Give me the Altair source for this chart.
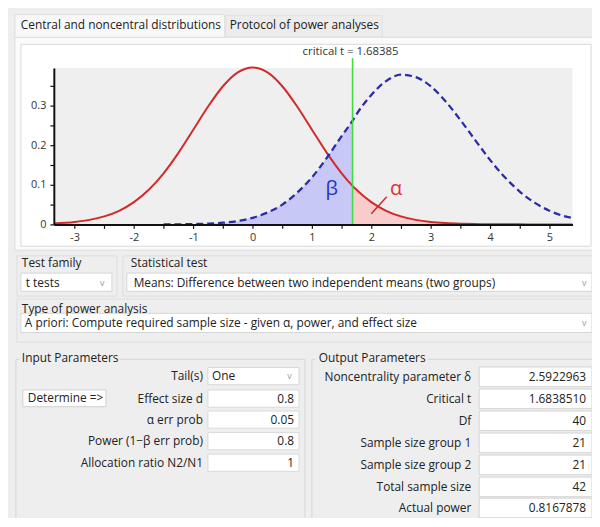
import altair as alt
import pandas as pd

# ---------------- chart data ----------------
T_VALUES = [-3.35, -3.0, -2.75, -2.5, -2.25, -2.0, -1.75, -1.5, -1.25, -1.0, -0.75, -0.5, -0.25,
            0.0, 0.25, 0.5, 0.75, 1.0, 1.25, 1.5, 1.684, 1.75, 2.0, 2.25, 2.5, 2.75, 3.0, 3.25,
            3.5, 3.75, 4.0, 4.25, 4.5, 4.75, 5.0, 5.25, 5.39]
CENTRAL_DENSITY = [0.0025, 0.0062, 0.0114, 0.0202, 0.0344, 0.0562, 0.0874, 0.1291, 0.1807, 0.2390,
                   0.2977, 0.3489, 0.3839, 0.3964, 0.3839, 0.3489, 0.2977, 0.2390, 0.1807, 0.1291,
                   0.0973, 0.0874, 0.0562, 0.0344, 0.0202, 0.0114, 0.0062, 0.0033, 0.0017, 0.0008,
                   0.0004, 0.0002, 0.0001, 0.00005, 0.00002, 0.00001, 0.00001]
NONCENTRAL_DENSITY = [None, None, None, None, None, None, None, 0.0001, 0.0002, 0.0009, 0.0020,
                      0.0043, 0.0087, 0.0166, 0.0300, 0.0500, 0.0800, 0.1190, 0.1680, 0.2230,
                      0.2620, 0.2780, 0.3270, 0.3620, 0.3780, 0.3720, 0.3490, 0.3110, 0.2640,
                      0.2130, 0.1630, 0.1190, 0.0830, 0.0550, 0.0345, 0.0207, 0.0160]
CRITICAL_T = 1.68385
CRITICAL_LABEL = "critical t =  1.68385"
X_TICKS = [-3, -2.5, -2, -1.5, -1, -0.5, 0, 0.5, 1, 1.5, 2, 2.5, 3, 3.5, 4, 4.5, 5]
Y_TICKS = [0, 0.05, 0.1, 0.15, 0.2, 0.25, 0.3, 0.35]
X_DOMAIN = [-3.35, 5.39]
Y_DOMAIN = [0, 0.395]

TAB_LABELS = ["Central and noncentral distributions", "Protocol of power analyses"]
TEST_FAMILY = "t tests"
STAT_TEST = "Means: Difference between two independent means (two groups)"
ANALYSIS_TYPE = "A priori: Compute required sample size - given \u03b1, power, and effect size"
INPUT_LABELS = ["Tail(s)", "Effect size d", "\u03b1 err prob", "Power (1\u2212\u03b2 err prob)",
                "Allocation ratio N2/N1"]
INPUT_VALUES = ["One", "0.8", "0.05", "0.8", "1"]
OUTPUT_LABELS = ["Noncentrality parameter \u03b4", "Critical t", "Df", "Sample size group 1",
                 "Sample size group 2", "Total sample size", "Actual power"]
OUTPUT_VALUES = ["2.5922963", "1.6838510", "40", "21", "21", "42", "0.8167878"]

# ---------------- layout ----------------
W, H = 590, 510
FONT = "Open Sans"
BG = "#eeeeee"
TXT = "#222222"
FS = 12


def cx(X):
    return X - 8


def cy(Y):
    return Y - 8 if Y <= 250 else 242 + (Y - 250) * 0.9675


xs = alt.Scale(domain=X_DOMAIN, range=[cx(54.3), cx(578.3)], nice=False, zero=False)
ys = alt.Scale(domain=Y_DOMAIN, range=[cy(224), cy(66)], nice=False, zero=False)

# ---- UI rectangles ----
rect_rows = []


def box(x0, y0, x1, y1, fill, stroke):
    rect_rows.append(dict(x0=cx(x0), x1=cx(x1), y0=cy(y0), y1=cy(y1), fill=fill, stroke=stroke))


box(15, 12, 227, 36, "#f8f8f8", "#dddddd")
box(228, 13, 386, 35, "#ececec", "#e2e2e2")
box(15, 35, 602, 250, "#fbfbfb", "#dcdcdc")
box(21, 42, 597, 246, "#ffffff", "#d9d9d9")
box(17, 256, 118, 298, "transparent", "#dedede")
box(124, 256, 602, 298, "transparent", "#dedede")
box(17, 301, 602, 346, "transparent", "#dedede")
box(21, 274, 113, 293, "#ffffff", "#d6d6d6")
box(128, 274, 598, 293, "#ffffff", "#d6d6d6")
box(21, 316, 598, 336, "#ffffff", "#d6d6d6")
box(16, 364, 308, 535, "transparent", "#d6d6d6")
box(315, 364, 604, 535, "transparent", "#d6d6d6")
box(20, 356, 120, 371, BG, BG)
box(319, 356, 432, 371, BG, BG)
IN_ROWS = [381.5, 405, 427, 449.5, 472]
OUT_ROWS = [382, 405, 428, 451, 474, 497, 519]
box(210, IN_ROWS[0] - 9, 302, IN_ROWS[0] + 9, "#ffffff", "#d6d6d6")
box(23, 396, 107, 413.5, "#ffffff", "#cfcfcf")
for r in IN_ROWS[1:]:
    box(210, r - 9, 302, r + 9, "#ffffff", "#dadada")
for r in OUT_ROWS:
    box(484, r - 10, 598, r + 10.5, "#ffffff", "#d2d2d2")
rects = pd.DataFrame(rect_rows)

ui_rects = alt.Chart(rects).mark_rect(strokeWidth=1).encode(
    x=alt.X("x0:Q", scale=None, axis=None), x2="x1:Q",
    y=alt.Y("y0:Q", scale=None, axis=None), y2="y1:Q",
    fill=alt.Fill("fill:N", scale=None), stroke=alt.Stroke("stroke:N", scale=None))

# ---- UI texts ----
left_rows, right_rows = [], []


def txt(rows, s, X, Y, color=TXT, fs=FS):
    rows.append(dict(x=cx(X), y=cy(Y), text=s, color=color, fs=fs))


txt(left_rows, TAB_LABELS[0], 21, 23)
txt(left_rows, TAB_LABELS[1], 232, 23)
txt(left_rows, "Test family", 22, 264)
txt(left_rows, TEST_FAMILY, 26, 284)
txt(left_rows, "Statistical test", 132, 264)
txt(left_rows, STAT_TEST, 135, 284)
txt(left_rows, "Type of power analysis", 22, 311)
txt(left_rows, ANALYSIS_TYPE, 25, 326)
txt(left_rows, "Input Parameters", 22, 363)
txt(left_rows, "Output Parameters", 322, 363)
txt(left_rows, INPUT_VALUES[0], 214, IN_ROWS[0])
txt(left_rows, "Determine =>", 28, 404.5)
for X, Y in [(101, 284), (588, 284), (588, 326), (290, IN_ROWS[0])]:
    txt(left_rows, "v", X, Y, "#9a9a9a", 9)
for lab, r in zip(INPUT_LABELS, IN_ROWS):
    txt(right_rows, lab, 205, r)
for val, r in zip(INPUT_VALUES[1:], IN_ROWS[1:]):
    txt(right_rows, val, 297, r)
for lab, r in zip(OUTPUT_LABELS, OUT_ROWS):
    txt(right_rows, lab, 476, r)
for val, r in zip(OUTPUT_VALUES, OUT_ROWS):
    txt(right_rows, val, 592, r)


def text_layer(rows, align):
    return alt.Chart(pd.DataFrame(rows)).mark_text(align=align, baseline="middle", font=FONT).encode(
        x=alt.X("x:Q", scale=None, axis=None), y=alt.Y("y:Q", scale=None, axis=None),
        text="text:N", color=alt.Color("color:N", scale=None), size=alt.Size("fs:Q", scale=None))


ui_left = text_layer(left_rows, "left")
ui_right = text_layer(right_rows, "right")

# ---------------- distribution plot ----------------
curve = pd.DataFrame({"t": T_VALUES, "central": CENTRAL_DENSITY, "noncentral": NONCENTRAL_DENSITY})

plot_bg = alt.Chart(pd.DataFrame({"a": [X_DOMAIN[0]], "b": [X_DOMAIN[1]],
                                  "c": [Y_DOMAIN[0]], "d": [Y_DOMAIN[1]]})).mark_rect(
    fill="#efefef").encode(x=alt.X("a:Q", scale=xs, axis=None), x2="b:Q",
                           y=alt.Y("c:Q", scale=ys, axis=None), y2="d:Q")

beta_area = alt.Chart(curve).transform_filter(
    f"isValid(datum.noncentral) && datum.t <= {CRITICAL_T} + 0.001").mark_area(
    color="#c8c8f6", interpolate="monotone").encode(
    x=alt.X("t:Q", scale=xs, axis=None), y=alt.Y("noncentral:Q", scale=ys, axis=None),
    y2=alt.datum(0))

alpha_area = alt.Chart(curve).transform_filter(
    f"datum.t >= {CRITICAL_T} - 0.001").mark_area(color="#f9cccc", interpolate="monotone").encode(
    x=alt.X("t:Q", scale=xs, axis=None), y=alt.Y("central:Q", scale=ys, axis=None),
    y2=alt.datum(0))

axis_common = dict(grid=False, title=None, domainColor="#111111", domainWidth=2,
                   tickColor="#111111", tickWidth=1.2, tickSize=4, labelFont=FONT,
                   labelFontSize=11, labelColor="#333333", labelOverlap=False, labelBound=False,
                   labelFlush=False, zindex=1)
x_axis = alt.Axis(orient="bottom", offset=cy(224) - H, values=X_TICKS, labelPadding=3,
                  labelExpr="datum.value % 1 == 0 ? '' + datum.value : ''", **axis_common)
y_axis = alt.Axis(orient="left", offset=-cx(54.3), values=Y_TICKS, labelPadding=4,
                  labelExpr="datum.value == 0 ? '0' : (datum.value == 0.1 || datum.value == 0.2 || "
                            "datum.value == 0.3) ? format(datum.value, '.1f') : ''",
                  **axis_common)

central_line = alt.Chart(curve).mark_line(color="#d22a2a", strokeWidth=2,
                                          interpolate="monotone").encode(
    x=alt.X("t:Q", scale=xs, axis=x_axis), y=alt.Y("central:Q", scale=ys, axis=y_axis))

noncentral_line = alt.Chart(curve).transform_filter("isValid(datum.noncentral)").mark_line(
    color="#2b2ba8", strokeWidth=2.3, strokeDash=[7, 4], interpolate="monotone").encode(
    x=alt.X("t:Q", scale=xs, axis=None), y=alt.Y("noncentral:Q", scale=ys, axis=None))

crit_rule = alt.Chart(pd.DataFrame({"t": [CRITICAL_T], "lo": [0.0], "hi": [0.42]})).mark_rule(
    color="#3fdc3f", strokeWidth=1.6).encode(
    x=alt.X("t:Q", scale=xs, axis=None), y=alt.Y("lo:Q", scale=ys, axis=None), y2="hi:Q")

crit_text = alt.Chart(pd.DataFrame({"t": [CRITICAL_T], "y": [0.435], "s": [CRITICAL_LABEL]})).mark_text(
    font=FONT, fontSize=11.5, color="#333333", baseline="middle", align="center", dx=-2).encode(
    x=alt.X("t:Q", scale=xs, axis=None), y=alt.Y("y:Q", scale=ys, axis=None), text="s:N")

greek = pd.DataFrame({"t": [1.333, 2.417], "y": [0.09, 0.088], "s": ["\u03b2", "\u03b1"],
                      "c": ["#2233bb", "#dd3535"]})
greek_text = alt.Chart(greek).mark_text(font=FONT, fontSize=20, baseline="middle",
                                        align="center").encode(
    x=alt.X("t:Q", scale=xs, axis=None), y=alt.Y("y:Q", scale=ys, axis=None), text="s:N",
    color=alt.Color("c:N", scale=None))

pointer = alt.Chart(pd.DataFrame({"t0": [2.0], "t1": [2.26], "y0": [0.027], "y1": [0.07]})).mark_rule(
    color="#d22a2a", strokeWidth=1.5).encode(
    x=alt.X("t0:Q", scale=xs, axis=None), x2="t1:Q",
    y=alt.Y("y0:Q", scale=ys, axis=None), y2="y1:Q")

chart = alt.layer(
    ui_rects, plot_bg, beta_area, alpha_area, central_line, noncentral_line, crit_rule,
    crit_text, greek_text, pointer, ui_left, ui_right
).resolve_scale(x="independent", y="independent").properties(
    width=W, height=H, padding=0, background=BG,
    autosize=alt.AutoSizeParams(type="none")
).configure_view(stroke=None)

chart.save("out.html", embed_options={"renderer": "svg", "actions": False})
